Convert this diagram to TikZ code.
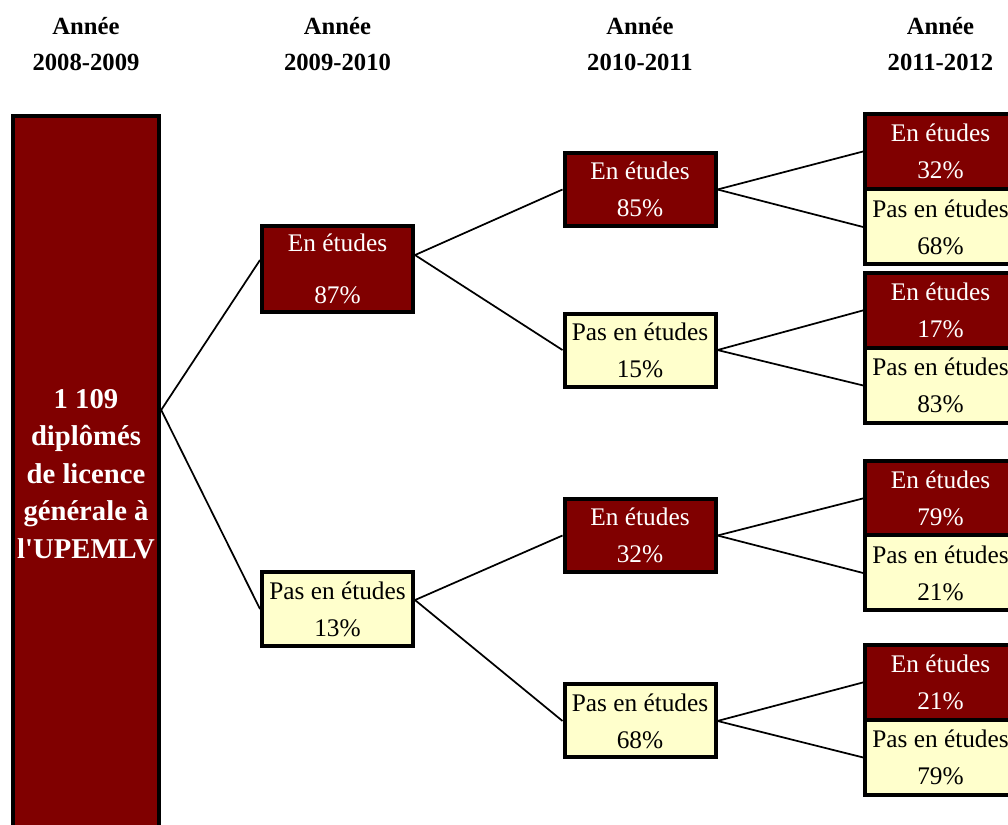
\documentclass[tikz,border=0pt]{standalone}
\usepackage{fontspec}
\setmainfont{Liberation Serif}[Ligatures=TeXOff]
\usetikzlibrary{shapes,arrows}
\definecolor{bordeaux}{RGB}{128,0,0}
\definecolor{creme}{RGB}{255,255,204}
\tikzstyle{annee} = [align=center, font=\fontsize{18.5}{27}\selectfont\bfseries]
\tikzstyle{total} = [rectangle, draw, line width=3pt, fill=bordeaux, text=white,
    align=center, minimum width=109.5pt, minimum height=537pt,
    font=\fontsize{21.5}{28.1}\selectfont\bfseries]
\tikzstyle{etudes} = [rectangle, draw, line width=3pt, fill=bordeaux, text=white,
    align=center, inner sep=0pt, minimum width=113.25pt, minimum height=54.75pt,
    font=\fontsize{19}{27.75}\selectfont]
\tikzstyle{pasetudes} = [etudes, fill=creme, text=black]
\tikzstyle{leaf} = [minimum height=56.25pt]
\tikzstyle{line} = [draw, line width=1.3pt]

\begin{document}
\begin{tikzpicture}[x=0.75pt, y=-0.75pt]
    \useasboundingbox (0,0) rectangle (1008,825);
    \clip (0,0) rectangle (1008,825);
    % Place nodes
    \node [annee] (an1) at (86,44.5) {Année\\2008-2009};
    \node [annee] (an2) at (337.5,44.5) {Année\\2009-2010};
    \node [annee] (an3) at (640,44.5) {Année\\2010-2011};
    \node [annee] (an4) at (940.5,44.5) {Année\\2011-2012};

    \node [total, below of=an1, node distance=322.1pt] (total) {1 109\\diplômés\\de licence\\générale à\\l'UPEMLV};

    \node [etudes, below of=an2, node distance=168.4pt, minimum height=64.5pt] (l1a) {En études\\[11.25pt]87\%};
    \node [pasetudes, below of=l1a, node distance=255pt, minimum height=55.5pt] (l1b) {Pas en études\\13\%};

    \node [etudes, below of=an3, node distance=108.75pt] (l2a) {En études\\85\%};
    \node [pasetudes, below of=l2a, node distance=120.4pt] (l2b) {Pas en études\\15\%};
    \node [etudes, below of=l2b, node distance=139.1pt] (l2c) {En études\\32\%};
    \node [pasetudes, below of=l2c, node distance=139.1pt] (l2d) {Pas en études\\68\%};

    \node [etudes, leaf, below of=an4, node distance=80.25pt] (l3a) {En études\\32\%};
    \node [pasetudes, leaf, below of=l3a, node distance=56.6pt] (l3b) {Pas en études\\68\%};
    \node [etudes, leaf, below of=l3b, node distance=62.6pt] (l3c) {En études\\17\%};
    \node [pasetudes, leaf, below of=l3c, node distance=56.25pt] (l3d) {Pas en études\\83\%};
    \node [etudes, leaf, below of=l3d, node distance=84.75pt] (l3e) {En études\\79\%};
    \node [pasetudes, leaf, below of=l3e, node distance=55.9pt] (l3f) {Pas en études\\21\%};
    \node [etudes, leaf, below of=l3f, node distance=82.1pt] (l3g) {En études\\21\%};
    \node [pasetudes, leaf, below of=l3g, node distance=56.25pt] (l3h) {Pas en études\\79\%};

    % Draw edges
    \coordinate (fork) at ([yshift=48pt]total.east);
    \path [line] (fork) -- ([yshift=6.75pt]l1a.west);
    \path [line] (fork) -- (l1b.west);
    \path [line] ([yshift=10.5pt]l1a.east) -- (l2a.west);
    \path [line] ([yshift=10.5pt]l1a.east) -- (l2b.west);
    \path [line] ([yshift=6.75pt]l1b.east) -- (l2c.west);
    \path [line] ([yshift=6.75pt]l1b.east) -- (l2d.west);
    \path [line] (l2a.east) -- (l3a.west);
    \path [line] (l2a.east) -- (l3b.west);
    \path [line] (l2b.east) -- (l3c.west);
    \path [line] (l2b.east) -- (l3d.west);
    \path [line] (l2c.east) -- (l3e.west);
    \path [line] (l2c.east) -- (l3f.west);
    \path [line] (l2d.east) -- (l3g.west);
    \path [line] (l2d.east) -- (l3h.west);

\end{tikzpicture}
\end{document}
